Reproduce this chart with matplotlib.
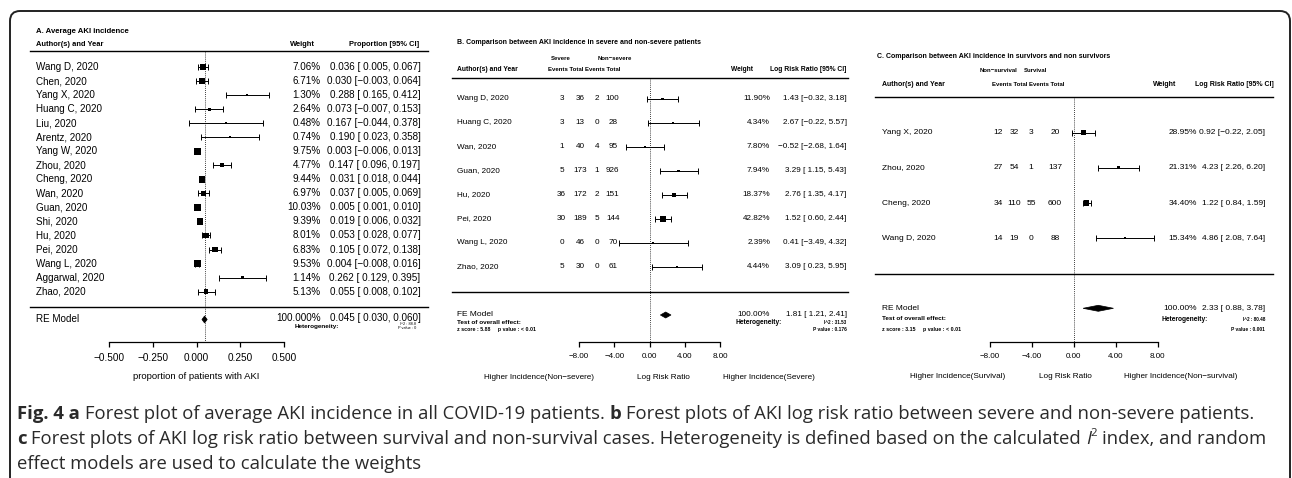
import matplotlib
matplotlib.use('Agg')
import matplotlib.pyplot as plt
from matplotlib.transforms import blended_transform_factory
from matplotlib.patches import Polygon, FancyBboxPatch
from matplotlib.lines import Line2D

W, H = 1292, 478
plt.rcParams['font.family'] = ['Liberation Sans', 'DejaVu Sans']

# ---- panel A: average AKI incidence
a_study = ['Wang D, 2020', 'Chen, 2020', 'Yang X, 2020', 'Huang C, 2020', 'Liu, 2020',
           'Arentz, 2020', 'Yang W, 2020', 'Zhou, 2020', 'Cheng, 2020', 'Wan, 2020',
           'Guan, 2020', 'Shi, 2020', 'Hu, 2020', 'Pei, 2020', 'Wang L, 2020',
           'Aggarwal, 2020', 'Zhao, 2020']
a_weight = [7.06, 6.71, 1.30, 2.64, 0.48, 0.74, 9.75, 4.77, 9.44, 6.97,
            10.03, 9.39, 8.01, 6.83, 9.53, 1.14, 5.13]
a_est = [0.036, 0.030, 0.288, 0.073, 0.167, 0.190, 0.003, 0.147, 0.031, 0.037,
         0.005, 0.019, 0.053, 0.105, 0.004, 0.262, 0.055]
a_lo = [0.005, -0.003, 0.165, -0.007, -0.044, 0.023, -0.006, 0.096, 0.018, 0.005,
        0.001, 0.006, 0.028, 0.072, -0.008, 0.129, 0.008]
a_hi = [0.067, 0.064, 0.412, 0.153, 0.378, 0.358, 0.013, 0.197, 0.044, 0.069,
        0.010, 0.032, 0.077, 0.138, 0.016, 0.395, 0.102]
a_pooled = [0.045, 0.030, 0.060]
a_ticks = [-0.5, -0.25, 0.0, 0.25, 0.5]

# ---- panel B: severe vs non-severe
b_study = ['Wang D, 2020', 'Huang C, 2020', 'Wan, 2020', 'Guan, 2020', 'Hu, 2020',
           'Pei, 2020', 'Wang L, 2020', 'Zhao, 2020']
b_ev1 = [3, 3, 1, 5, 36, 30, 0, 5]
b_tot1 = [36, 13, 40, 173, 172, 189, 46, 30]
b_ev2 = [2, 0, 4, 1, 2, 5, 0, 0]
b_tot2 = [100, 28, 95, 926, 151, 144, 70, 61]
b_weight = [11.90, 4.34, 7.80, 7.94, 18.37, 42.82, 2.39, 4.44]
b_est = [1.43, 2.67, -0.52, 3.29, 2.76, 1.52, 0.41, 3.09]
b_lo = [-0.32, -0.22, -2.68, 1.15, 1.35, 0.60, -3.49, 0.23]
b_hi = [3.18, 5.57, 1.64, 5.43, 4.17, 2.44, 4.32, 5.95]
b_pooled = [1.81, 1.21, 2.41]

# ---- panel C: survivors vs non survivors
c_study = ['Yang X, 2020', 'Zhou, 2020', 'Cheng, 2020', 'Wang D, 2020']
c_ev1 = [12, 27, 34, 14]
c_tot1 = [32, 54, 110, 19]
c_ev2 = [3, 1, 55, 0]
c_tot2 = [20, 137, 600, 88]
c_weight = [28.95, 21.31, 34.40, 15.34]
c_est = [0.92, 4.23, 1.22, 4.86]
c_lo = [-0.22, 2.26, 0.84, 2.08]
c_hi = [2.05, 6.20, 1.59, 7.64]
c_pooled = [2.33, 0.88, 3.78]
rr_ticks = [-8, -4, 0, 4, 8]

fig = plt.figure(figsize=(W / 100, H / 100), dpi=100)


def num(v, d):
    return f'{v:.{d}f}'.replace('-', '\u2212')


def ci_text(e, lo, hi, d):
    lo_s = num(lo, d) if lo < 0 else ' ' + num(lo, d)
    return f'{num(e, d)} [{lo_s}, {num(hi, d)}]'


def panel(x0, x1, axis_y, xlim, ticks, tickfmt, tfs):
    ax = fig.add_axes([x0 / W, 1 - axis_y / H, (x1 - x0) / W, (axis_y - 15) / H])
    ax.set_xlim(xlim)
    ax.set_ylim(axis_y, 15)
    ax.patch.set_visible(False)
    for s in ['top', 'left', 'right']:
        ax.spines[s].set_visible(False)
    ax.spines['bottom'].set_linewidth(0.9)
    ax.set_yticks([])
    ax.set_xticks(ticks)
    ax.set_xticklabels([num(t, tickfmt) for t in ticks], fontsize=tfs)
    ax.tick_params(axis='x', direction='out', length=3.8, width=0.9, pad=4)
    tr = blended_transform_factory(fig.transFigure, ax.transData)
    return ax, tr


def txt(ax, tr, xp, y, s, **kw):
    ax.text(xp / W, y, s, transform=tr, va='center', clip_on=False, **kw)


def hline(ax, tr, xa, xb, y, lw=1.0):
    ax.add_line(Line2D([xa / W, xb / W], [y, y], transform=tr, color='k', lw=lw, clip_on=False))


def forest(ax, ys, est, lo, hi, weight, smin, smax):
    wmin, wmax = min(weight), max(weight)
    sizes = [(smin + (w - wmin) / (wmax - wmin) * (smax - smin)) * 0.72 for w in weight]
    ax.errorbar(est, ys, xerr=[[e - l for e, l in zip(est, lo)], [h - e for e, h in zip(est, hi)]],
                fmt='none', ecolor='k', elinewidth=0.7, capsize=2.0, capthick=0.7, zorder=2)
    ax.scatter(est, ys, marker='s', s=[s ** 2 for s in sizes], c='k', linewidths=0, zorder=3)


def diamond(ax, pooled, y, h):
    e, lo, hi = pooled
    ax.add_patch(Polygon([(lo, y), (e, y - h), (hi, y), (e, y + h)], closed=True,
                         fc='k', ec='k', lw=0.5, zorder=3))


# ================= panel A
axA, trA = panel(109.3, 284.1, 341.7, (-0.5, 0.5), a_ticks, 3, 7.2)
ysA = [67 + 14.04 * i for i in range(len(a_study))]
txt(axA, trA, 36, 32, 'A. Average AKI incidence', fontsize=5.6, fontweight='bold')
txt(axA, trA, 36, 45, 'Author(s) and Year', fontsize=5.4, fontweight='bold')
txt(axA, trA, 290, 45, 'Weight', fontsize=5.4, fontweight='bold')
txt(axA, trA, 419, 45, 'Proportion [95% CI]', fontsize=5.4, fontweight='bold', ha='right')
hline(axA, trA, 30, 428, 51.5)
hline(axA, trA, 30, 428, 306.7)
axA.vlines(a_pooled[0], 52, 341.7, colors='k', linestyles=(0, (1, 1.5)), lw=0.6)
forest(axA, ysA, a_est, a_lo, a_hi, a_weight, 2.0, 6.8)
for y, s, w, e, l, h in zip(ysA, a_study, a_weight, a_est, a_lo, a_hi):
    txt(axA, trA, 36, y, s, fontsize=7.1)
    txt(axA, trA, 320.5, y, f'{w:.2f}%', fontsize=7.1, ha='right')
    txt(axA, trA, 420.5, y, ci_text(e, l, h, 3), fontsize=7.1, ha='right')
diamond(axA, a_pooled, 319.5, 3.5)
txt(axA, trA, 36, 319, 'RE Model', fontsize=7.1)
txt(axA, trA, 320.5, 318.5, '100.000%', fontsize=7.1, ha='right')
txt(axA, trA, 420.5, 318.5, ci_text(*a_pooled, 3), fontsize=7.1, ha='right')
txt(axA, trA, 295, 326.5, 'Heterogeneity:', fontsize=4.6, fontweight='bold')
txt(axA, trA, 416, 324.5, 'I^2 : 88.8', fontsize=2.8, ha='right')
txt(axA, trA, 416, 328, 'P value : 0', fontsize=2.8, ha='right')
txt(axA, trA, 196.5, 376.7, 'proportion of patients with AKI', fontsize=6.8, ha='center')

# ================= panel B
axB, trB = panel(579.1, 720.3, 341.7, (-8, 8), rr_ticks, 2, 5.8)
ysB = [99 + 24 * i for i in range(len(b_study))]
txt(axB, trB, 457, 42.7, 'B. Comparison between AKI incidence in severe and non-severe patients',
    fontsize=5.0, fontweight='bold')
txt(axB, trB, 560.3, 58.3, 'Severe', fontsize=4.3, fontweight='bold', ha='center')
txt(axB, trB, 615, 58.3, 'Non\u2212severe', fontsize=4.3, fontweight='bold', ha='center')
txt(axB, trB, 457, 70, 'Author(s) and Year', fontsize=4.9, fontweight='bold')
txt(axB, trB, 584, 70, 'Events Total Events Total', fontsize=4.3, fontweight='bold', ha='center')
txt(axB, trB, 731, 70, 'Weight', fontsize=4.8, fontweight='bold')
txt(axB, trB, 846.7, 70, 'Log Risk Ratio [95% CI]', fontsize=4.9, fontweight='bold', ha='right')
hline(axB, trB, 452, 848, 77.7)
hline(axB, trB, 452, 848, 291.7)
axB.vlines(0, 78, 341.7, colors='k', linestyles=(0, (1, 1.5)), lw=0.6)
forest(axB, ysB, b_est, b_lo, b_hi, b_weight, 2.0, 6.0)
for y, s, e1, t1, e2, t2, w, e, l, h in zip(ysB, b_study, b_ev1, b_tot1, b_ev2, b_tot2,
                                             b_weight, b_est, b_lo, b_hi):
    txt(axB, trB, 457, y, s, fontsize=5.9)
    for xp, v in zip([561.7, 580, 596.7, 612.7], [e1, t1, e2, t2]):
        txt(axB, trB, xp, y, str(v), fontsize=5.9, ha='center')
    txt(axB, trB, 770, y, f'{w:.2f}%', fontsize=5.9, ha='right')
    txt(axB, trB, 846.7, y, ci_text(e, l, h, 2), fontsize=5.9, ha='right')
diamond(axB, b_pooled, 315, 3.0)
txt(axB, trB, 457, 315, 'FE Model', fontsize=6.0)
txt(axB, trB, 457, 322.5, 'Test of overall effect:', fontsize=4.6, fontweight='bold')
txt(axB, trB, 457, 330, 'z score : 5.88     p value : < 0.01', fontsize=3.8, fontweight='bold')
txt(axB, trB, 770, 315, '100.00%', fontsize=5.9, ha='right')
txt(axB, trB, 846.7, 315, ci_text(*b_pooled, 2), fontsize=5.9, ha='right')
txt(axB, trB, 736, 322.5, 'Heterogeneity:', fontsize=4.8, fontweight='bold')
txt(axB, trB, 846.7, 322.5, 'I^2 : 31.53', fontsize=3.3, fontweight='bold', ha='right')
txt(axB, trB, 846.7, 330, 'P value : 0.176', fontsize=3.5, fontweight='bold', ha='right')
txt(axB, trB, 539.3, 377.7, 'Higher Incidence(Non\u2212severe)', fontsize=5.9, ha='center')
txt(axB, trB, 663.3, 377.7, 'Log Risk Ratio', fontsize=5.9, ha='center')
txt(axB, trB, 769, 377.7, 'Higher Incidence(Severe)', fontsize=5.9, ha='center')

# ================= panel C
axC, trC = panel(990, 1157.7, 341.7, (-8, 8), rr_ticks, 2, 5.8)
ysC = [132.7 + 35.2 * i for i in range(len(c_study))]
txt(axC, trC, 876.7, 56.7, 'C. Comparison between AKI incidence in survivors and non survivors',
    fontsize=5.0, fontweight='bold')
txt(axC, trC, 998.3, 70.7, 'Non\u2212survival', fontsize=4.3, fontweight='bold', ha='center')
txt(axC, trC, 1035.3, 70.7, 'Survival', fontsize=4.3, fontweight='bold', ha='center')
txt(axC, trC, 882.3, 85, 'Author(s) and Year', fontsize=5.0, fontweight='bold')
txt(axC, trC, 1028.3, 85, 'Events Total Events Total', fontsize=4.3, fontweight='bold', ha='center')
txt(axC, trC, 1153.3, 85, 'Weight', fontsize=5.0, fontweight='bold')
txt(axC, trC, 1273.3, 85, 'Log Risk Ratio [95% CI]', fontsize=5.0, fontweight='bold', ha='right')
hline(axC, trC, 875, 1273, 96.7)
hline(axC, trC, 875, 1273, 274)
axC.vlines(0, 97, 341.7, colors='k', linestyles=(0, (1, 1.5)), lw=0.6)
forest(axC, ysC, c_est, c_lo, c_hi, c_weight, 2.0, 5.5)
for y, s, e1, t1, e2, t2, w, e, l, h in zip(ysC, c_study, c_ev1, c_tot1, c_ev2, c_tot2,
                                             c_weight, c_est, c_lo, c_hi):
    txt(axC, trC, 882.3, y, s, fontsize=6.0)
    for xp, v in zip([998.3, 1014.5, 1031, 1055], [e1, t1, e2, t2]):
        txt(axC, trC, xp, y, str(v), fontsize=6.0, ha='center')
    txt(axC, trC, 1196.7, y, f'{w:.2f}%', fontsize=6.0, ha='right')
    txt(axC, trC, 1265, y, ci_text(e, l, h, 2), fontsize=6.0, ha='right')
diamond(axC, c_pooled, 308.3, 3.0)
txt(axC, trC, 882.3, 308.3, 'RE Model', fontsize=6.0)
txt(axC, trC, 882.3, 318.3, 'Test of overall effect:', fontsize=4.6, fontweight='bold')
txt(axC, trC, 882.3, 330, 'z score : 3.15     p value : < 0.01', fontsize=3.8, fontweight='bold')
txt(axC, trC, 1196.7, 308.3, '100.00%', fontsize=6.0, ha='right')
txt(axC, trC, 1265, 308.3, ci_text(*c_pooled, 2), fontsize=6.0, ha='right')
txt(axC, trC, 1161.7, 320, 'Heterogeneity:', fontsize=4.8, fontweight='bold')
txt(axC, trC, 1265, 320, 'I^2 : 80.48', fontsize=3.3, fontweight='bold', ha='right')
txt(axC, trC, 1265, 330, 'P value : 0.001', fontsize=3.5, fontweight='bold', ha='right')
txt(axC, trC, 957.7, 376.7, 'Higher Incidence(Survival)', fontsize=5.9, ha='center')
txt(axC, trC, 1065, 376.7, 'Log Risk Ratio', fontsize=5.9, ha='center')
txt(axC, trC, 1180.7, 376.7, 'Higher Incidence(Non\u2212survival)', fontsize=5.9, ha='center')

# ================= frame and caption
fig.add_artist(FancyBboxPatch((10 / 100, (H - 500) / 100), 1280 / 100, 489 / 100,
                              boxstyle='round,pad=0,rounding_size=0.1',
                              transform=fig.dpi_scale_trans, fc='none', ec='#222222', lw=1.4))

cap_fs = 13.3
cap_col = '#2a2a2a'
cap_lines = [
    [('Fig. 4 a', 'bold'), ('Forest plot of average AKI incidence in all COVID-19 patients.', 'normal'),
     ('b', 'bold'), ('Forest plots of AKI log risk ratio between severe and non-severe patients.', 'normal')],
    [('c', 'bold'), ('Forest plots of AKI log risk ratio between survival and non-survival cases. '
                     'Heterogeneity is defined based on the calculated', 'normal'),
     ('I', 'italic'), ('index, and random', 'normal')],
    [('effect models are used to calculate the weights', 'normal')],
]
baselines = [419, 444.5, 469]
renderer = fig.canvas.get_renderer()


def width_px(s, weight='normal', style='normal', size=cap_fs):
    t = fig.text(0, 0, s, fontsize=size, family='Open Sans', fontweight=weight, fontstyle=style)
    w = t.get_window_extent(renderer).width
    t.remove()
    return w


space = width_px('x x') - width_px('xx')
for line, yb in zip(cap_lines, baselines):
    x = 17
    for s, kind in line:
        weight = 'bold' if kind == 'bold' else 'normal'
        style = 'italic' if kind == 'italic' else 'normal'
        fig.text(x / W, 1 - yb / H, s, fontsize=cap_fs, family='Open Sans', fontweight=weight,
                 fontstyle=style, color=cap_col, va='baseline')
        x += width_px(s, weight, style)
        if kind == 'italic':
            fig.text(x / W, 1 - (yb - 8) / H, '2', fontsize=cap_fs * 0.62, family='Open Sans',
                     color=cap_col, va='baseline')
            x += width_px('2', size=cap_fs * 0.62)
        x += space

fig.savefig('out.png', dpi=100)
